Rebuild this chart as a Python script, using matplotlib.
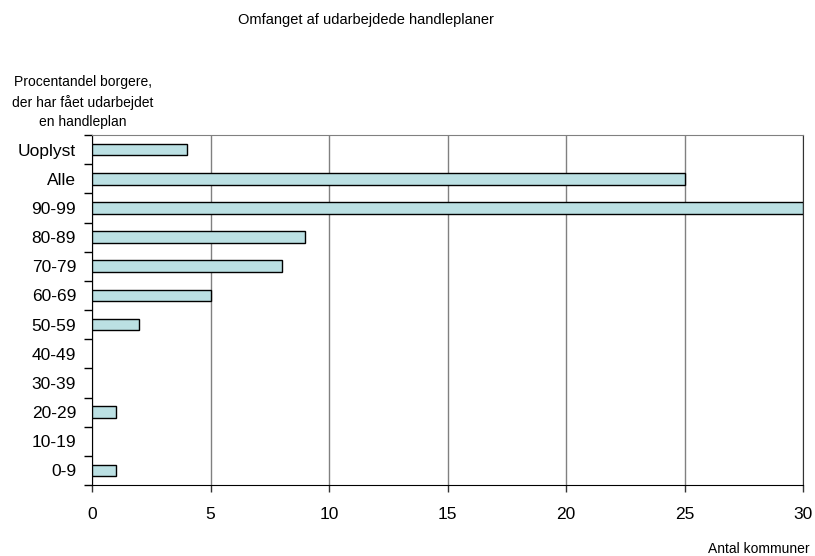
import matplotlib
matplotlib.use("Agg")
import matplotlib.pyplot as plt
import numpy as np

plt.rcParams['font.family'] = ['Liberation Sans', 'DejaVu Sans']

categories = ["Uoplyst", "Alle", "90-99", "80-89", "70-79", "60-69", "50-59",
              "40-49", "30-39", "20-29", "10-19", "0-9"]
values = [4, 25, 30, 9, 8, 5, 2, 0, 0, 1, 0, 1]
xticks = [0, 5, 10, 15, 20, 25, 30]

fig = plt.figure(figsize=(8.15, 5.56), dpi=100)
ax = fig.add_axes([92/815, 1-485/556, (803-92)/815, (485-135)/556])

n = len(categories)
ypos = np.arange(n)[::-1]
for y, v in zip(ypos, values):
    if v > 0:
        ax.barh(y, v, height=0.4, color="#BBE0E3", edgecolor="black", linewidth=1, zorder=3)

ax.set_xlim(0, 30)
ax.set_ylim(-0.5, n - 0.5)
ax.set_xticks(xticks)
ax.set_xticklabels([str(t) for t in xticks], fontsize=12.5)
ax.set_yticks(ypos)
ax.set_yticklabels(categories, fontsize=12.5)
ax.tick_params(axis='y', which='major', length=0, pad=11.5)
ax.set_yticks(np.arange(-0.5, n, 1), minor=True)
ax.tick_params(axis='y', which='minor', length=6, direction='out', width=1)
ax.tick_params(axis='x', length=5, direction='out', width=1, pad=11, color="#333333")
ax.xaxis.grid(True, color="#808080", linewidth=1, zorder=0)
ax.set_axisbelow(True)
ax.spines['top'].set_color("#808080")
ax.spines['right'].set_color("#333333")
ax.spines['left'].set_color("black")
ax.spines['bottom'].set_color("black")

fig.text(366/815, 1-20/556, "Omfanget af udarbejdede handleplaner", ha="center", va="center", fontsize=10.5)
fig.text(83/815, 1-102/556, "Procentandel borgere,\nder har fået udarbejdet\nen handleplan",
         ha="center", va="center", fontsize=10, linespacing=1.45)
fig.text(810/815, 1-549/556, "Antal kommuner", ha="right", va="center", fontsize=10)

fig.savefig("out.png", dpi=100)
